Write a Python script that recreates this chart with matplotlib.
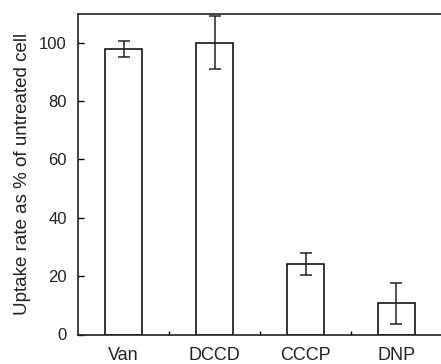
import matplotlib.pyplot as plt

# uptake rate relative to untreated cells
treatments = ["Van", "DCCD", "CCCP", "DNP"]
uptake = [97.8, 100.0, 24.2, 10.7]
errors = [2.8, 9.1, 3.7, 7.0]

plt.rcParams['font.family'] = ['Liberation Sans', 'DejaVu Sans']

fig = plt.figure(figsize=(4.41, 3.64), dpi=100)
ax = fig.add_axes([78 / 441, 29.5 / 364, 364 / 441, 321 / 364])

x = range(len(treatments))
ax.bar(x, uptake, width=0.41, color='white', edgecolor='black', linewidth=1.1,
       yerr=errors, capsize=4.5, error_kw=dict(elinewidth=1.1, capthick=1.1, ecolor='#222222'))

ax.set_xlim(-0.5, 3.5)
ax.set_ylim(0, 110)
ax.set_yticks([0, 20, 40, 60, 80, 100])
ax.set_xticks([0, 1, 2, 3])
ax.set_xticklabels(treatments)
ax.set_xticks([0.5, 1.5, 2.5], minor=True)

ax.tick_params(axis='y', direction='in', length=4, width=1, labelsize=12, pad=8,
               labelcolor='#222222')
ax.tick_params(axis='x', which='major', length=0, labelsize=13, pad=9,
               labelcolor='#222222')
ax.tick_params(axis='x', which='minor', direction='in', length=3, width=1)

for side in ['left', 'top', 'bottom', 'right']:
    ax.spines[side].set_linewidth(1.2)
    ax.spines[side].set_color('#222222')

ax.set_ylabel("Uptake rate as % of untreated cell", fontsize=13.5, labelpad=6,
              color='#222222')

plt.savefig('out.png', dpi=100)
